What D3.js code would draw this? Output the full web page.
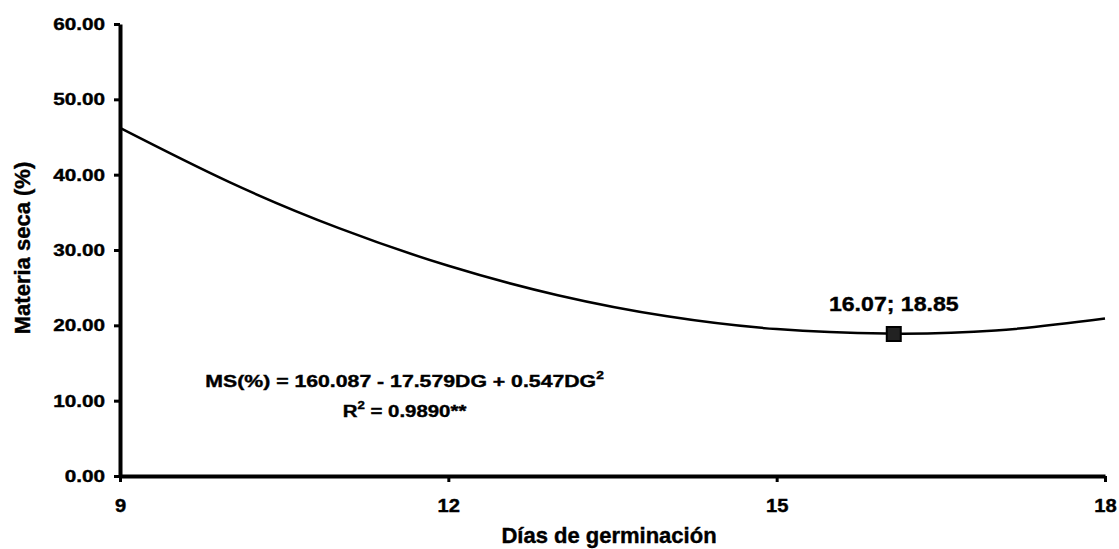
<!DOCTYPE html>
<html>
<head>
<meta charset="utf-8">
<script src="https://cdn.jsdelivr.net/npm/d3@7"></script>
<style>
  body { margin: 0; background: #fff; }
  text { font-family: Arial, "Liberation Sans", sans-serif; font-weight: bold; fill: #000; stroke: #000; stroke-width: 0.4; }
</style>
</head>
<body>
<svg id="chart"></svg>
<script>
// valores
const dias = [9, 10, 11, 12, 13, 14, 15, 16, 17, 18];
const materiaSeca = [46.2, 39.0, 32.9, 27.9, 24.0, 21.2, 19.5, 18.9, 19.3, 20.9];
const minimo = [16.07, 18.85];
const xTicks = [9, 12, 15, 18];
const yTicks = [0, 10, 20, 30, 40, 50, 60];

const W = 1119, H = 549;
const svg = d3.select("#chart").attr("width", W).attr("height", H);

const x = d3.scaleLinear().domain([9, 18]).range([120, 1105]);
const y = d3.scaleLinear().domain([0, 60]).range([476, 24]);

// eje y
const yAxis = svg.append("g")
    .attr("transform", "translate(120,0)")
    .call(d3.axisLeft(y).tickValues(yTicks).tickFormat(d3.format(".2f")).tickSize(6).tickSizeOuter(0));
yAxis.select(".domain").attr("stroke", "#000").attr("stroke-width", 4);
yAxis.selectAll(".tick line").attr("stroke", "#000").attr("stroke-width", 3);
yAxis.selectAll(".tick text")
    .attr("font-size", 17)
    .attr("x", -15 / 1.22)
    .attr("transform", "scale(1.22,1)");

// eje x
const xAxis = svg.append("g")
    .attr("transform", "translate(0,476)")
    .call(d3.axisBottom(x).tickValues(xTicks).tickFormat(d3.format("d")).tickSize(6).tickSizeOuter(0));
xAxis.select(".domain").attr("stroke", "#000").attr("stroke-width", 4);
xAxis.selectAll(".tick line").attr("stroke", "#000").attr("stroke-width", 3);
xAxis.selectAll(".tick text")
    .attr("font-size", 18)
    .attr("y", 36)
    .attr("dy", 0)
    .attr("transform", "scale(1.12,1)");

// curva
const line = d3.line()
    .x((d, i) => x(dias[i]))
    .y(d => y(d))
    .curve(d3.curveNatural);

svg.append("path")
    .attr("d", line(materiaSeca))
    .attr("fill", "none")
    .attr("stroke", "#000")
    .attr("stroke-width", 2.5);

// punto minimo
svg.append("rect")
    .attr("x", x(minimo[0]) - 7)
    .attr("y", y(minimo[1]) - 7)
    .attr("width", 14)
    .attr("height", 14)
    .attr("fill", "#222")
    .attr("stroke", "#000")
    .attr("stroke-width", 2);

svg.append("g")
    .attr("transform", `translate(${x(minimo[0])},${y(minimo[1]) - 23}) scale(1.1,1)`)
    .append("text")
    .attr("text-anchor", "middle")
    .attr("font-size", 21)
    .text(minimo[0].toFixed(2) + "; " + minimo[1].toFixed(2));

// ecuacion
const eq = svg.append("g")
    .attr("transform", `translate(${x(11.6)},${y(11.8)}) scale(1.25,1)`)
    .append("text")
    .attr("text-anchor", "middle")
    .attr("font-size", 17);
eq.append("tspan").text("MS(%) = 160.087 - 17.579DG + 0.547DG");
eq.append("tspan").attr("font-size", 11).attr("dy", -8).text("2");

const r2 = svg.append("g")
    .attr("transform", `translate(${x(11.6)},${y(7.8)}) scale(1.2,1)`)
    .append("text")
    .attr("text-anchor", "middle")
    .attr("font-size", 17);
r2.append("tspan").text("R");
r2.append("tspan").attr("font-size", 11).attr("dy", -8).text("2");
r2.append("tspan").attr("dy", 8).text(" = 0.9890**");

// titulos
svg.append("text")
    .attr("x", 609)
    .attr("y", 543)
    .attr("text-anchor", "middle")
    .attr("font-size", 22)
    .text("Días de germinación");

svg.append("text")
    .attr("transform", "translate(30,248) rotate(-90)")
    .attr("text-anchor", "middle")
    .attr("font-size", 22)
    .text("Materia seca (%)");
</script>
</body>
</html>
